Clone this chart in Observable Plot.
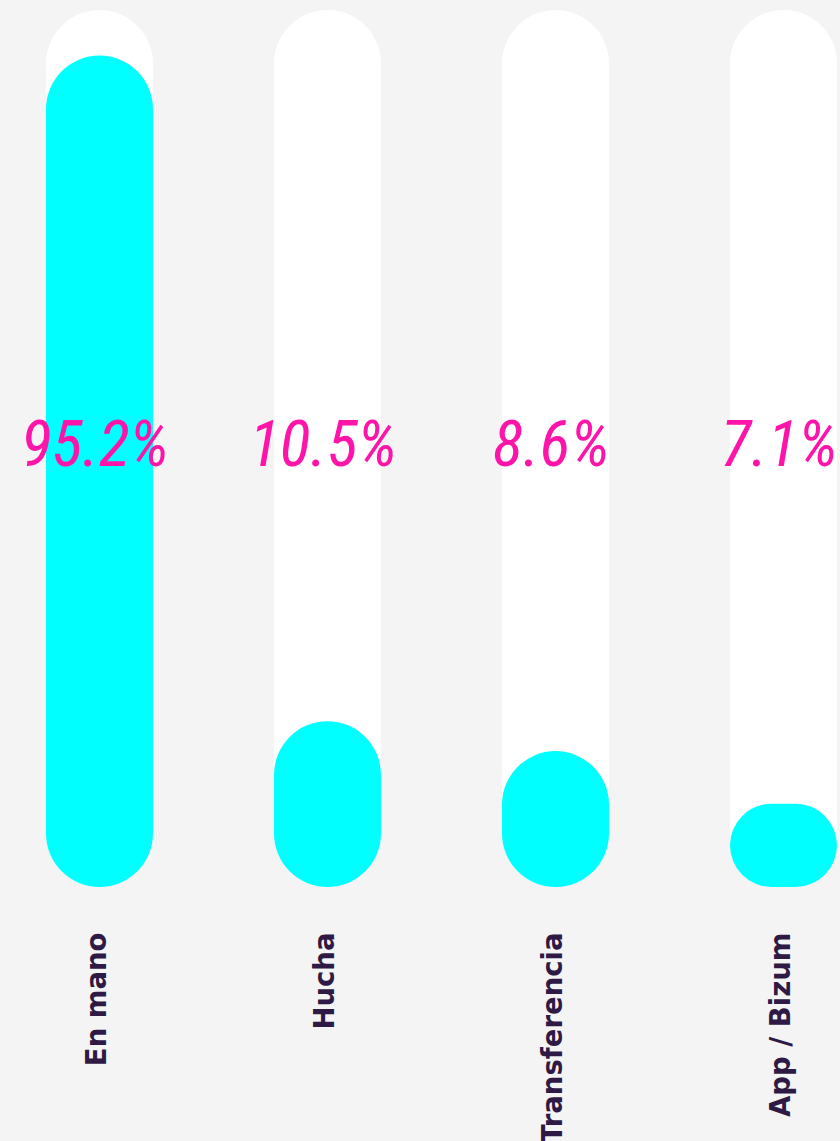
<!DOCTYPE html>
<html>
<head>
<meta charset="utf-8">
<script src="https://cdn.jsdelivr.net/npm/d3@7"></script>
<script src="https://cdn.jsdelivr.net/npm/@observablehq/plot@0.6"></script>
<style>
  html, body { margin: 0; padding: 0; background: #f4f4f4; }
  #chart svg { display: block; }
</style>
</head>
<body>
<div id="chart"></div>
<script>
const categories = ["En mano", "Hucha", "Transferencia", "App / Bizum"];
const labels = ["95.2%", "10.5%", "8.6%", "7.1%"];
// bar fill level as drawn, in % of the track
const levels = [94.8, 18.9, 15.5, 9.5];
const trackMax = 100;
const labelLevel = 50.4;

const rows = categories.map((c, i) => ({category: c, level: levels[i], label: labels[i], track: trackMax}));

const chart = Plot.plot({
  width: 840,
  height: 1141,
  marginTop: 10,
  marginBottom: 254,
  marginLeft: 46,
  marginRight: 3,
  style: {background: "#f4f4f4", overflow: "visible"},
  x: {domain: categories, paddingInner: 0.5307, paddingOuter: 0, round: false, axis: null},
  y: {domain: [0, 100], axis: null},
  marks: [
    Plot.barY(rows, {x: "category", y: "track", fill: "#ffffff", className: "track"}),
    Plot.barY(rows, {x: "category", y: "level", fill: "#00ffff", className: "level"}),
    Plot.text(rows, {
      x: "category", y: labelLevel, text: "label",
      fill: "#ff14aa", fontSize: 64, fontStyle: "italic", fontWeight: 400,
      fontFamily: "'Liberation Sans Narrow', 'Roboto Condensed', Roboto, sans-serif",
      textAnchor: "middle", lineAnchor: "middle", dx: -5
    }),
    Plot.axisX({
      tickSize: 0, tickRotate: -90, tickPadding: 45, fontSize: 27.5,
      fontWeight: 700, fontFamily: "'DejaVu Sans', sans-serif", fill: "#2e1a45",
      dx: -3, label: null
    })
  ]
});

d3.select(chart).selectAll("g.track rect, g.level rect").each(function() {
  const w = +this.getAttribute("width"), h = +this.getAttribute("height");
  const r = Math.min(w, h) / 2;
  this.setAttribute("rx", r);
  this.setAttribute("ry", r);
});

document.getElementById("chart").appendChild(chart);
</script>
</body>
</html>
